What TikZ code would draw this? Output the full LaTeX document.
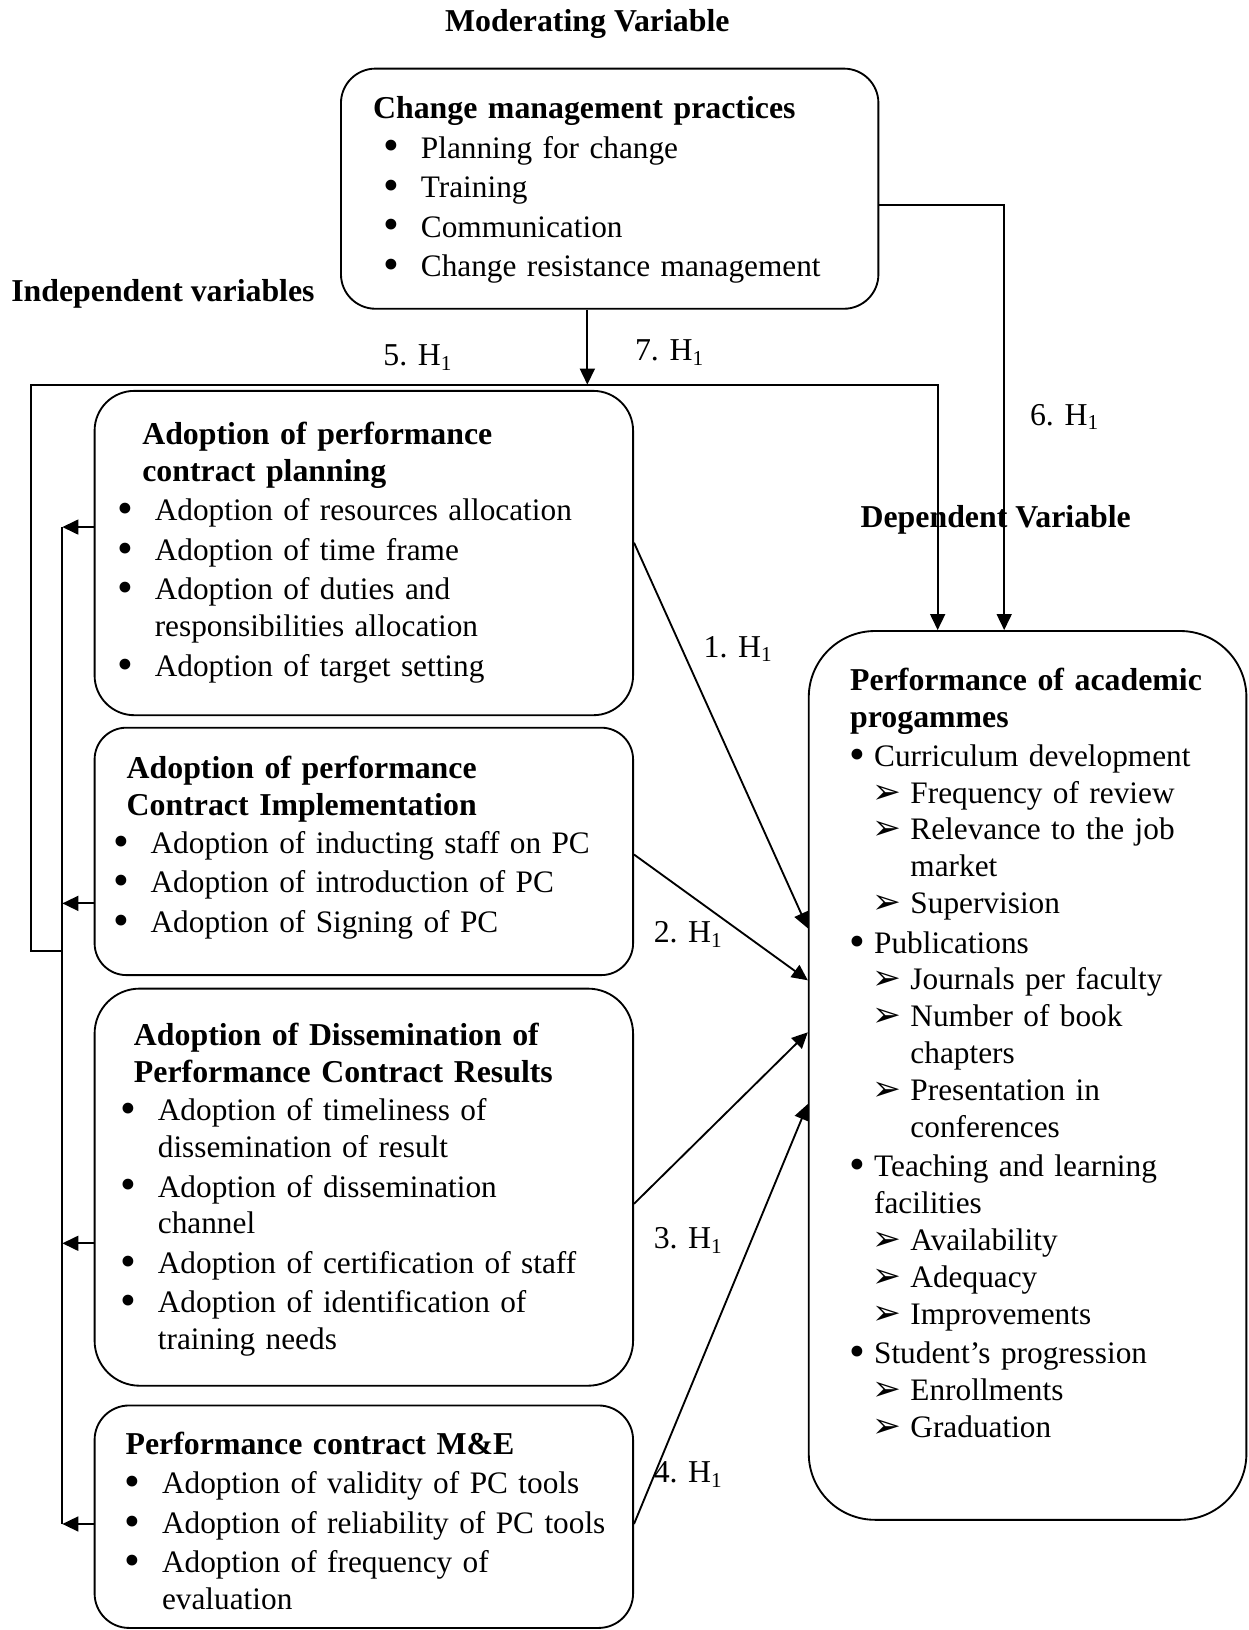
\documentclass[tikz,border=0pt]{standalone}
\usepackage{fontspec}
\setmainfont{Liberation Serif}
\newfontfamily\dingfont{DejaVu Sans}
\usetikzlibrary{arrows.meta,fit}

\newcommand{\bodyfont}{\fontsize{12}{13.9}\selectfont}
\newcommand{\listfont}{\fontsize{11.8}{13.9}\selectfont}
\newcommand{\bigbul}{\raisebox{-1.1pt}[0pt][0pt]{\fontsize{17}{17}\selectfont\textbullet}}
\newcommand{\itembul}{\leavevmode\llap{\makebox[22pt]{\bigbul}}}
\newcommand{\depbul}{\leavevmode\llap{\makebox[12.5pt]{\bigbul}}}
\newcommand{\deparr}{\leavevmode\hspace*{13.7pt}\llap{\makebox[17.6pt]{\raisebox{0pt}[0pt][0pt]{\dingfont\fontsize{13}{13}\selectfont ➢}}}}
\newcommand{\depgap}{\leavevmode\hspace*{13.7pt}}

\begin{document}
\begin{tikzpicture}[
  x=0.392pt,
  y=-0.392pt,
  line width=0.7pt,
  box/.style={draw, inner sep=0pt},
  head/.style={anchor=base west, inner sep=0pt, align=left, text width=190pt, font=\bodyfont\bfseries},
  list/.style={anchor=base west, inner sep=0pt, align=left, text width=180pt, font=\listfont},
  caption/.style={inner sep=0pt, font=\bodyfont\bfseries},
  hyp/.style={anchor=base west, inner sep=0pt, font=\bodyfont},
  arrow/.style={-{Triangle[length=6pt,width=5.6pt]}}
]
\useasboundingbox (0,0) rectangle (1201,1568);

% Moderating variable
\node[caption, anchor=base] (modcap) at (565,30) {Moderating Variable};
\node[box, rounded corners=13pt, fit={(328,66) (845,297)}] (modbox) {};
\node[head] (modhead) at (358,114) {Change management practices};
\node[list] (modlist) at (404,152) {\itembul Planning for change\\[1pt]
  \itembul Training\\[1pt]
  \itembul Communication\\[1pt]
  \itembul Change resistance management};

% Independent variables
\node[caption, anchor=base west] (indcap) at (10,290) {Independent variables};

\node[box, rounded corners=15pt, fit={(91,376) (609,688)}] (planbox) {};
\node[head] (planhead) at (136,428) {Adoption of performance\\ contract planning};
\node[list] (planlist) at (148,501) {\itembul Adoption of resources allocation\\[1pt]
  \itembul Adoption of time frame\\[1pt]
  \itembul Adoption of duties and\\ responsibilities allocation\\[1pt]
  \itembul Adoption of target setting};

\node[box, rounded corners=12pt, fit={(91,700) (609,938)}] (implbox) {};
\node[head] (implhead) at (121,749) {Adoption of performance\\ Contract Implementation};
\node[list] (impllist) at (144,821) {\itembul Adoption of inducting staff on PC\\[1pt]
  \itembul Adoption of introduction of PC\\[1pt]
  \itembul Adoption of Signing of PC};

\node[box, rounded corners=17pt, fit={(91,951) (609,1333)}] (dissbox) {};
\node[head] (disshead) at (128,1006) {Adoption of Dissemination of\\ Performance Contract Results};
\node[list] (disslist) at (151,1078) {\itembul Adoption of timeliness of\\ dissemination of result\\[1pt]
  \itembul Adoption of dissemination\\ channel\\[1pt]
  \itembul Adoption of certification of staff\\[1pt]
  \itembul Adoption of identification of\\ training needs};

\node[box, rounded corners=13pt, fit={(91,1352) (609,1566)}] (mebox) {};
\node[head] (mehead) at (120,1399) {Performance contract M\&E};
\node[list] (melist) at (155,1437) {\itembul Adoption of validity of PC tools\\[1pt]
  \itembul Adoption of reliability of PC tools\\[1pt]
  \itembul Adoption of frequency of\\ evaluation};

% Dependent variable
\node[caption, anchor=base west] (depcap) at (827,507) {Dependent Variable};
\node[box, rounded corners=25pt, fit={(778,607) (1199,1462)}] (perfbox) {};
\node[head] (perfhead) at (817,664) {Performance of academic\\ progammes};
\node[list, text width=150pt] (perflist) at (840,737) {\depbul Curriculum development\\
  \deparr Frequency of review\\
  \deparr Relevance to the job\\
  \depgap market\\
  \deparr Supervision\\[1pt]
  \depbul Publications\\
  \deparr Journals per faculty\\
  \deparr Number of book\\
  \depgap chapters\\
  \deparr Presentation in\\
  \depgap conferences\\[1pt]
  \depbul Teaching and learning\\ facilities\\
  \deparr Availability\\
  \deparr Adequacy\\
  \deparr Improvements\\[1pt]
  \depbul Student’s progression\\
  \deparr Enrollments\\
  \deparr Graduation};

% Moderator links
\coordinate (busin) at (565,370);
\draw[arrow] (modbox.south -| busin) -- (busin);
\draw[arrow] (modbox.east |- 0,197) -- (966,197) -- (perfbox.north -| 966,0);
\draw[arrow] (60,915) -- (30,915) -- (30,370) -- (902,370) -- (perfbox.north -| 902,0);

% Left collector
\coordinate (bustop) at (60,507);
\coordinate (busbot) at (60,1466);
\draw (bustop) -- (busbot);
\draw[arrow] (planbox.west |- bustop) -- (bustop);
\draw[arrow] (implbox.west |- 0,869) -- (60,869);
\draw[arrow] (dissbox.west |- 0,1196) -- (60,1196);
\draw[arrow] (mebox.west |- busbot) -- (busbot);

% Hypotheses
\draw[arrow] (planbox.east |- 0,522) -- (perfbox.west |- 0,893);
\draw[arrow] (implbox.east |- 0,822) -- (perfbox.west |- 0,943);
\draw[arrow] (dissbox.east |- 0,1158) -- (perfbox.west |- 0,993);
\draw[arrow] (mebox.east |- 0,1466) -- (perfbox.west |- 0,1062);

\node[hyp] (h5) at (368,352) {5. H\textsubscript{1}};
\node[hyp] (h7) at (610,347) {7. H\textsubscript{1}};
\node[hyp] (h6) at (990,409) {6. H\textsubscript{1}};
\node[hyp] (h1) at (676,632) {1. H\textsubscript{1}};
\node[hyp] (h2) at (628,907) {2. H\textsubscript{1}};
\node[hyp] (h3) at (628,1201) {3. H\textsubscript{1}};
\node[hyp] (h4) at (628,1426) {4. H\textsubscript{1}};

\end{tikzpicture}
\end{document}
